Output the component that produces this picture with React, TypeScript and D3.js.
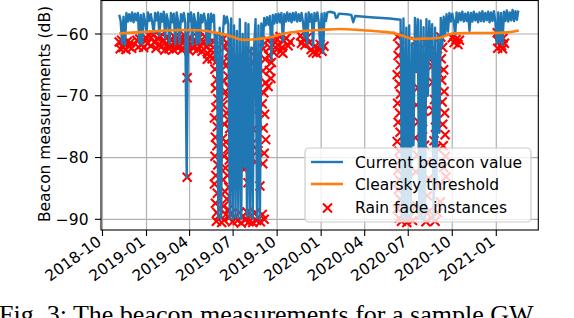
import { useEffect, useRef } from "react";
import * as d3 from "d3";

// every day value below counts from 2018-10-01
const originMs = Date.UTC(2018, 9, 1);
const dayMs = 86400000;

// dense beacon record, first period (one sample every 3 days)
const beacon2019Start = 35;
const beacon2019Step = 3;
const beacon2019: number[] = [
  -56.9, -57.9, -61.6, -57.2, -61.8, -56.6, -58.0, -56.8, -57.9, -56.5,
  -58.1, -56.7, -57.8, -56.6, -61.5, -56.9, -61.7, -56.7, -58.0, -59.8,
  -56.5, -57.9, -56.8, -58.1, -59.9, -56.6, -57.8, -56.5, -60.3, -56.7,
  -58.0, -56.4, -60.7, -56.8, -57.9, -61.6, -56.6, -58.1, -56.7, -61.7,
  -56.5, -57.9, -61.6, -56.8, -58.0, -56.6, -58.2, -83.2, -56.7, -57.9,
  -56.5, -61.8, -56.8, -58.0, -61.7, -56.6, -61.5, -56.9, -58.1, -56.7,
  -57.9, -61.7, -56.8, -61.6, -56.7, -58.0, -56.9, -64.3, -60.0, -89.8,
  -59.0, -89.9, -61.0, -57.1, -58.3, -57.2, -58.4, -89.9, -57.5, -90.0,
  -58.6, -89.7, -59.5, -89.8, -57.6, -90.0, -60.0, -81.6, -58.2, -89.5,
  -58.4, -89.5, -62.2, -89.9, -62.0, -57.6, -89.8, -58.6, -90.0, -58.3,
  -62.0, -57.4, -58.6, -57.3, -58.5, -57.1, -64.2, -56.9, -58.3, -56.8,
  -58.2, -56.7, -58.1, -56.6, -61.2, -56.8, -58.0, -56.5, -57.9, -56.7,
  -58.1, -56.6, -57.8, -56.5, -58.0, -56.8, -57.9, -56.6, -58.1, -60.6,
  -56.7, -61.6, -56.5, -58.0, -56.8, -62.0, -56.6, -57.9, -56.5, -58.1,
  -62.1, -56.7, -63.1, -56.6, -57.9, -56.5,
];

// sparse stretch between the two dense periods: [day, dB]
const beaconGap: [number, number][] = [
  [476, -56.4], [485, -56.6], [488, -57.4], [491, -57.3], [494, -56.7],
  [510, -56.8], [520, -56.9], [524, -58.1], [528, -57.1], [560, -57.3],
  [600, -57.5], [623, -57.7],
];

// dense beacon record, second period
const beacon2020Start = 626;
const beacon2020Step = 3;
const beacon2020: number[] = [
  -89.9, -57.5, -90.0, -59.0, -89.8, -58.6, -89.5, -61.5, -78.0, -57.4,
  -66.0, -57.6, -89.9, -57.8, -90.0, -58.9, -89.8, -57.6, -70.0, -57.9,
  -64.0, -58.4, -89.9, -59.0, -85.0, -60.2, -76.0, -57.4, -62.0, -57.2,
  -60.1, -56.8, -59.6, -56.6, -58.0, -56.7, -57.9, -60.2, -56.5, -58.1,
  -56.6, -57.8, -56.4, -58.0, -56.7, -57.9, -56.5, -59.5, -56.6, -58.0,
  -56.4, -57.8, -56.7, -58.1, -56.5, -57.9, -56.3, -58.0, -56.6, -57.8,
  -56.4, -58.1, -56.5, -57.9, -56.3, -58.0, -61.6, -56.5, -61.4, -56.6,
  -61.8, -56.4, -57.9, -56.2, -58.0, -56.5, -57.8, -56.1, -57.9, -56.3,
  -57.7, -56.2,
];

// clear-sky threshold: [day, dB]
const clearsky: [number, number][] = [
  [35, -59.9], [78, -59.7], [120, -59.5], [162, -59.35], [204, -59.4],
  [231, -59.7], [256, -60.1], [273, -60.5], [294, -60.95], [319, -60.85],
  [344, -60.6], [360, -60.35], [375, -60.0], [392, -59.75], [413, -59.55],
  [455, -59.35], [496, -59.2], [538, -59.35], [580, -59.6], [611, -59.9],
  [628, -60.3], [649, -60.8], [674, -60.75], [705, -60.6], [733, -59.9],
  [768, -59.85], [810, -59.85], [852, -59.7], [870, -59.45],
];

// rain fade instances, first period: [day, dB]
const rainFade2019: [number, number][] = [
  [35, -61.3], [37, -62.4], [40, -61.0], [43, -62.2], [46, -61.6], [49, -62.5],
  [52, -61.2], [55, -62.0], [58, -61.4], [61, -62.3],
  [72, -61.0], [75, -62.1], [78, -60.8], [82, -61.7], [86, -62.2], [90, -60.6],
  [94, -61.5], [98, -60.3], [101, -61.9],
  [106, -60.2], [109, -61.4], [112, -62.3], [115, -60.7], [118, -61.8], [121, -60.4],
  [124, -62.0], [127, -61.2], [130, -62.6], [133, -60.6], [136, -61.7], [139, -62.4],
  [142, -60.9], [145, -61.8], [148, -62.5], [151, -60.5], [154, -61.6], [157, -62.2],
  [160, -60.8], [163, -61.9], [166, -62.6], [169, -61.1], [172, -60.3], [175, -62.0],
  [178, -61.4], [181, -62.7], [184, -60.7], [187, -61.8], [190, -62.3], [193, -60.9],
  [196, -61.6], [199, -62.5], [202, -60.6], [205, -61.9], [208, -62.8], [211, -61.2],
  [214, -60.4], [217, -62.1], [220, -63.2], [223, -61.5], [226, -62.6], [229, -64.0],
  [232, -61.3], [219, -64.1], [225, -63.5],
  [177, -67.1], [177, -83.2],
  [237, -62.6], [240, -64.3], [235, -65.7], [239, -67.4], [236, -68.8], [241, -70.5],
  [237, -71.9], [234, -73.6], [240, -75.0], [236, -76.7], [239, -78.1], [235, -79.8],
  [241, -81.2], [237, -82.9], [234, -84.3], [240, -85.8], [236, -87.4], [239, -88.9],
  [252, -60.8], [256, -62.1], [260, -61.4], [264, -63.0], [253, -64.5], [258, -65.2],
  [262, -66.8], [266, -64.4], [254, -67.6], [257, -69.3], [261, -70.1], [265, -68.7],
  [252, -71.5], [259, -72.8], [263, -73.9], [255, -74.6], [266, -75.3], [251, -76.9],
  [258, -77.5], [262, -78.6], [254, -79.8], [265, -80.4], [257, -81.7], [261, -82.9],
  [252, -83.6], [264, -84.8], [256, -85.5], [260, -86.7], [253, -87.9], [263, -88.4],
  [258, -89.2], [254, -90.1], [265, -89.7],
  [279, -66.1], [278, -74.8], [283, -64.0], [287, -68.7], [288, -77.6], [296, -81.9],
  [300, -65.8], [304, -84.1], [308, -62.8], [311, -67.5], [307, -72.9], [312, -77.8],
  [316, -64.6], [319, -70.2], [315, -75.4], [320, -80.7], [324, -66.3], [327, -72.1],
  [325, -78.9], [329, -84.6],
  [238, -90.3], [244, -89.4], [249, -90.5], [268, -89.1], [272, -90.4], [277, -89.6],
  [282, -90.2], [286, -88.9], [290, -90.6], [294, -89.5], [298, -90.1], [302, -88.8],
  [306, -90.4], [310, -89.3], [314, -90.5], [318, -89.0], [322, -90.2], [326, -89.7],
  [330, -90.4], [334, -89.2], [338, -90.0],
  [336, -62.4], [340, -64.1], [335, -66.0], [341, -67.9], [337, -69.5], [334, -71.3],
  [339, -73.0], [336, -75.2], [341, -77.1], [338, -79.3], [335, -81.0],
  [345, -61.0], [350, -62.2], [347, -63.5], [353, -64.6], [349, -65.9], [356, -61.8],
  [352, -67.2], [346, -68.5], [358, -63.0],
  [362, -60.6], [366, -61.8], [371, -60.4], [375, -62.2], [379, -61.1], [384, -60.7],
  [388, -61.9], [392, -61.3], [372, -62.8], [377, -63.1],
  [414, -60.3], [416, -61.5],
  [420, -60.9], [423, -61.8], [427, -60.6], [432, -61.4], [436, -62.5], [440, -63.0],
  [443, -62.1], [447, -63.1], [451, -62.4], [455, -61.7], [459, -62.8], [463, -62.0],
];

// rain fade instances, second period
const rainFade2020: [number, number][] = [
  [617, -60.4], [621, -61.9], [618, -63.5], [622, -65.0], [616, -66.6], [620, -68.1],
  [623, -69.7], [617, -71.2], [621, -72.8], [618, -74.3], [622, -75.9], [616, -77.4],
  [620, -79.0], [623, -80.5], [617, -82.1], [621, -83.6], [618, -85.2], [622, -86.7],
  [616, -88.3], [620, -89.8],
  [654, -61.2], [658, -63.4], [655, -66.0], [659, -68.7], [656, -71.5], [660, -74.2],
  [654, -76.8], [658, -79.6], [655, -82.3], [659, -85.1], [656, -87.8],
  [667, -64.1], [671, -66.9], [668, -69.8], [672, -72.5], [669, -75.4], [673, -78.0],
  [677, -61.5], [681, -63.9], [678, -80.8], [682, -83.4], [679, -86.2], [683, -88.7],
  [686, -62.7], [689, -65.2],
  [690, -67.8], [694, -70.6], [691, -72.4], [696, -75.1], [693, -77.3], [698, -78.4],
  [700, -63.6], [703, -66.4],
  [707, -60.5], [711, -62.2], [708, -64.0], [713, -65.8], [709, -67.5], [714, -69.3],
  [710, -71.0], [715, -72.8], [711, -74.6], [716, -76.3], [712, -78.1], [717, -79.8],
  [713, -81.6], [718, -83.1],
  [625, -90.3], [630, -89.1], [636, -90.5], [642, -89.6], [648, -90.2], [664, -89.4],
  [676, -90.4], [688, -89.8], [695, -90.3], [700, -88.9], [704, -84.6], [706, -87.2],
  [731, -60.6], [735, -61.4], [739, -60.9], [743, -61.7], [746, -61.0],
  [825, -59.8], [828, -61.2], [831, -60.4], [834, -61.9], [837, -60.7], [840, -61.5],
  [826, -62.3], [836, -62.4],
];

const xTickLabels = [
  "2018-10", "2019-01", "2019-04", "2019-07", "2019-10",
  "2020-01", "2020-04", "2020-07", "2020-10", "2021-01",
];
const yTicks = [-60, -70, -80, -90];
const seriesNames = ["Current beacon value", "Clearsky threshold", "Rain fade instances"];
const yLabel = "Beacon measurements (dB)";
const caption = "Fig. 3: The beacon measurements for a sample GW";

const dayToDate = (d: number) => new Date(originMs + d * dayMs);

const W = 574;
const H = 318;
const FONT = "DejaVu Sans, sans-serif";
const BLUE = "#1f77b4";
const ORANGE = "#ff7f0e";

export default function App() {
  const svgRef = useRef<SVGSVGElement>(null);

  useEffect(() => {
    if (!svgRef.current) return;
    const svg = d3.select(svgRef.current);
    svg.selectAll("*").remove();

    const plot = { left: 101, right: 538.3, top: 0.5, bottom: 230 };

    const x = d3
      .scaleUtc()
      .domain([dayToDate(-3.1), dayToDate(910.8)])
      .range([plot.left, plot.right]);
    const y = d3.scaleLinear().domain([-91.73, -54.58]).range([plot.bottom, plot.top]);

    const beacon: [number, number][] = [
      ...beacon2019.map((v, i) => [beacon2019Start + i * beacon2019Step, v] as [number, number]),
      ...beaconGap,
      ...beacon2020.map((v, i) => [beacon2020Start + i * beacon2020Step, v] as [number, number]),
    ];
    const rain = [...rainFade2019, ...rainFade2020];
    const tickDates = xTickLabels.map((s) => new Date(s + "-01T00:00:00Z"));

    svg
      .append("defs")
      .append("clipPath")
      .attr("id", "plot-clip")
      .append("rect")
      .attr("x", plot.left)
      .attr("y", plot.top)
      .attr("width", plot.right - plot.left)
      .attr("height", plot.bottom - plot.top);

    // grid
    const grid = svg.append("g").attr("stroke", "#b0b0b0").attr("stroke-width", 1.2);
    tickDates.forEach((d) => {
      grid
        .append("line")
        .attr("x1", x(d))
        .attr("x2", x(d))
        .attr("y1", plot.top)
        .attr("y2", plot.bottom);
    });
    yTicks.forEach((v) => {
      grid
        .append("line")
        .attr("x1", plot.left)
        .attr("x2", plot.right)
        .attr("y1", y(v))
        .attr("y2", y(v));
    });

    const g = svg.append("g").attr("clip-path", "url(#plot-clip)");

    // rain fade markers sit under the lines
    const xMark = "M-4.5,-4.5L4.5,4.5M-4.5,4.5L4.5,-4.5";
    g.append("g")
      .selectAll("path")
      .data(rain)
      .enter()
      .append("path")
      .attr("d", xMark)
      .attr("transform", (d) => `translate(${x(dayToDate(d[0]))},${y(d[1])})`)
      .attr("stroke", "#ff0000")
      .attr("stroke-width", 2.1)
      .attr("fill", "none");

    const line = d3
      .line<[number, number]>()
      .x((d) => x(dayToDate(d[0])))
      .y((d) => y(d[1]));

    g.append("path")
      .attr("d", line(beacon) ?? "")
      .attr("fill", "none")
      .attr("stroke", BLUE)
      .attr("stroke-width", 2.4)
      .attr("stroke-linejoin", "round");

    g.append("path")
      .attr("d", line.curve(d3.curveMonotoneX)(clearsky) ?? "")
      .attr("fill", "none")
      .attr("stroke", ORANGE)
      .attr("stroke-width", 2.6)
      .attr("stroke-linejoin", "round");

    // spines
    svg
      .append("rect")
      .attr("x", plot.left)
      .attr("y", plot.top)
      .attr("width", plot.right - plot.left)
      .attr("height", plot.bottom - plot.top)
      .attr("fill", "none")
      .attr("stroke", "#000")
      .attr("stroke-width", 1.1);

    // x ticks + rotated labels
    const xt = svg.append("g");
    tickDates.forEach((d, i) => {
      const px = x(d);
      xt.append("line")
        .attr("x1", px)
        .attr("x2", px)
        .attr("y1", plot.bottom)
        .attr("y2", plot.bottom + 6)
        .attr("stroke", "#000")
        .attr("stroke-width", 1.1);
      xt.append("text")
        .attr("transform", `translate(${px},${244}) rotate(-36)`)
        .attr("text-anchor", "end")
        .attr("font-family", FONT)
        .attr("font-size", 15.5)
        .attr("fill", "#000")
        .text(xTickLabels[i]);
    });

    // y ticks
    const yt = svg.append("g");
    yTicks.forEach((v) => {
      yt.append("line")
        .attr("x1", plot.left - 6)
        .attr("x2", plot.left)
        .attr("y1", y(v))
        .attr("y2", y(v))
        .attr("stroke", "#000")
        .attr("stroke-width", 1.1);
      yt.append("text")
        .attr("x", 88.5)
        .attr("y", y(v))
        .attr("dy", "0.36em")
        .attr("text-anchor", "end")
        .attr("font-family", FONT)
        .attr("font-size", 15.5)
        .attr("fill", "#000")
        .text(`\u2212${Math.abs(v)}`);
    });

    svg
      .append("text")
      .attr("transform", "translate(50,114) rotate(-90)")
      .attr("text-anchor", "middle")
      .attr("font-family", FONT)
      .attr("font-size", 15.5)
      .attr("fill", "#000")
      .text(yLabel);

    // legend
    const lg = svg.append("g");
    lg.append("rect")
      .attr("x", 305)
      .attr("y", 148)
      .attr("width", 226)
      .attr("height", 74)
      .attr("rx", 4)
      .attr("fill", "#fff")
      .attr("fill-opacity", 0.8)
      .attr("stroke", "#cccccc")
      .attr("stroke-width", 1.2);
    const rowY = [162, 184, 207];
    seriesNames.forEach((name, i) => {
      if (i < 2) {
        lg.append("line")
          .attr("x1", 311)
          .attr("x2", 343)
          .attr("y1", rowY[i])
          .attr("y2", rowY[i])
          .attr("stroke", i === 0 ? BLUE : ORANGE)
          .attr("stroke-width", i === 0 ? 2.4 : 2.6);
      } else {
        lg.append("path")
          .attr("d", xMark)
          .attr("transform", `translate(327.5,${rowY[i] + 1})`)
          .attr("stroke", "#ff0000")
          .attr("stroke-width", 2.1)
          .attr("fill", "none");
      }
      lg.append("text")
        .attr("x", 355)
        .attr("y", rowY[i])
        .attr("dy", "0.36em")
        .attr("font-family", FONT)
        .attr("font-size", 15.5)
        .attr("fill", "#000")
        .text(name);
    });

    // caption of the figure, cut by the bottom edge as in the source page
    svg
      .append("text")
      .attr("x", -1)
      .attr("y", 323)
      .attr("font-family", "Liberation Serif, Times New Roman, serif")
      .attr("font-size", 26)
      .attr("fill", "#000")
      .text(caption);
  }, []);

  return (
    <svg
      ref={svgRef}
      width={W}
      height={H}
      style={{ position: "absolute", left: 0, top: 0, background: "#fff" }}
    />
  );
}
